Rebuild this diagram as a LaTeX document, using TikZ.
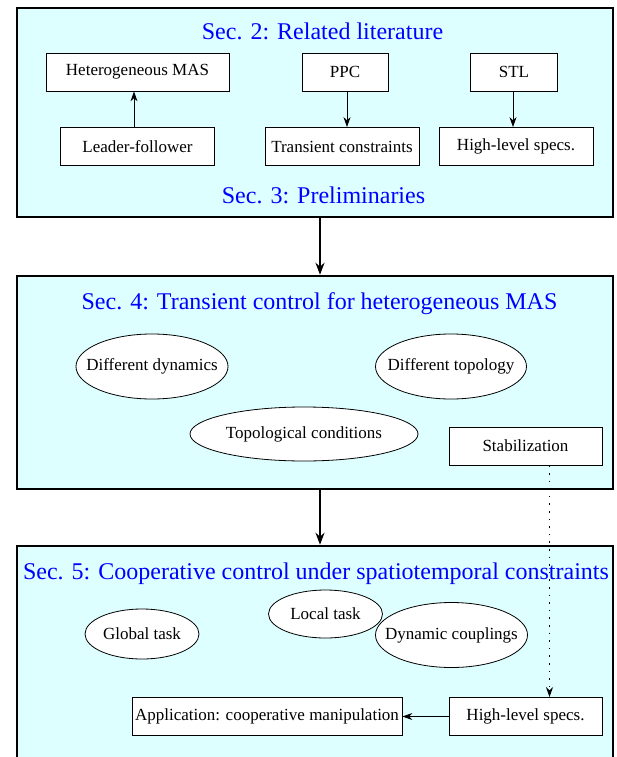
\documentclass[tikz,border=0pt]{standalone}
\usepackage{fontspec}
\setmainfont{Liberation Serif}
\usetikzlibrary{arrows.meta}
\definecolor{secfill}{RGB}{221,255,255}
\tikzset{
  secbox/.style={draw, line width=2.5pt, fill=secfill, inner sep=0pt},
  sectitle/.style={text=blue, font=\fontsize{24}{28}\selectfont},
  topicbox/.style={draw, line width=0.8pt, fill=white, minimum height=38pt, inner sep=0pt, font=\fontsize{17}{20}\selectfont},
  topictext/.style={inner sep=0pt, font=\fontsize{17}{20}\selectfont},
  topicell/.style={draw, line width=0.8pt, fill=white},
  link/.style={-{Stealth[length=10pt,width=7pt]}, line width=0.9pt},
  secarrow/.style={-{Stealth[length=12pt,width=9pt]}, line width=1.8pt},
}
\begin{document}
\begin{tikzpicture}[x=1pt, y=-1pt]
  \clip (0,0) rectangle (617,757);
  \fill[white] (0,0) rectangle (617,757);

  % Section boxes
  \node[secbox, minimum width=596pt, minimum height=209pt] (sec2) at (315,112.5) {};
  \node[secbox, minimum width=596pt, minimum height=213pt] (sec4) at (315,382.5) {};
  \node[secbox, minimum width=596pt, minimum height=254pt] (sec5) at (315,673) {};

  % Section titles
  \node[sectitle] (t2) at (322.5,31) {Sec. 2: Related literature};
  \node[sectitle] (t3) at (323.5,195.5) {Sec. 3: Preliminaries};
  \node[sectitle] (t4) at (319.5,304) {Sec. 4: Transient control for heterogeneous MAS};
  \node[sectitle] (t5) at (316,574) {Sec. 5: Cooperative control under spatiotemporal constraints};

  % Boxes
  \foreach \name/\x/\y/\w/\txt in {
      hmas/137.5/72/183/Heterogeneous MAS,
      ppc/345/72/86/PPC,
      stl/514/72/87/STL,
      lf/137.5/146.5/154/Leader-follower,
      tc/342/146.5/154/Transient constraints,
      hls/516/146.5/154/High-level specs.,
      stab/525.5/446/153/Stabilization,
      app/267/716.5/270/Application: cooperative manipulation,
      hls2/525.5/716.5/153/High-level specs.} {
    \node[topicbox, minimum width=\w pt] (\name) at (\x,\y) {\txt};
  }

  % Ellipses
  \foreach \name/\x/\y/\w/\h/\txt in {
      dyn/152/366.5/152/65/Different dynamics,
      topo/451/366.5/151/65/Different topology,
      topc/304/434/228/54/Topological conditions,
      glob/142/634/114/50/Global task,
      loc/325.5/614/114/48/Local task,
      dcoup/451.5/635/152/65/Dynamic couplings} {
    \draw[topicell] (\x,\y) ellipse ({\w/2} and {\h/2});
    \node[topictext] (\name) at (\x,\y) {\txt};
  }

  % Links inside sections
  \draw[link] ([xshift=-3.5pt]lf.north) -- ([xshift=-3.5pt]hmas.south);
  \draw[link] ([xshift=2pt]ppc.south) -- ([xshift=5pt]tc.north);
  \draw[link] ([xshift=-1pt]stl.south) -- ([xshift=-3pt]hls.north);
  \draw[link] (hls2.west) -- (app.east);
  \draw[link, line width=1.6pt, dash pattern=on 1.6pt off 6pt] ([xshift=24pt]stab.south) -- ([xshift=24pt]hls2.north);

  % Links between sections
  \draw[secarrow] ([xshift=5pt]sec2.south) -- ([xshift=5pt]sec4.north);
  \draw[secarrow] ([xshift=5pt]sec4.south) -- ([xshift=5pt]sec5.north);
\end{tikzpicture}
\end{document}
